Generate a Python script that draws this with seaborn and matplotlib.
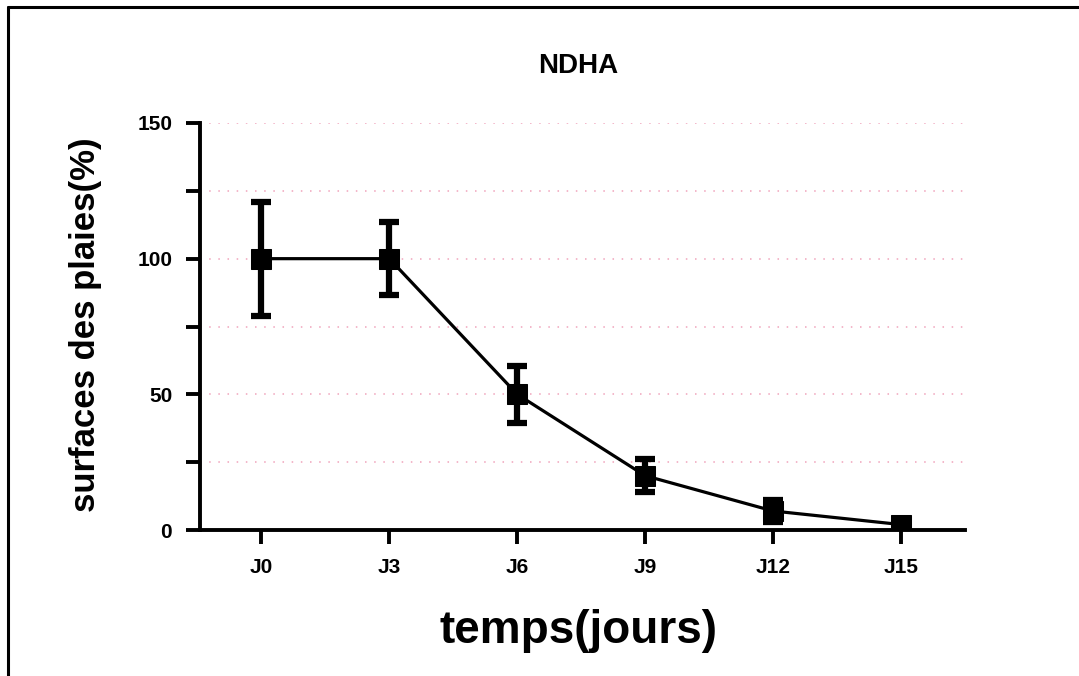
import matplotlib
matplotlib.use("Agg")
import matplotlib.pyplot as plt
import seaborn as sns
import pandas as pd
from matplotlib.lines import Line2D

# Data
days = ["J0", "J3", "J6", "J9", "J12", "J15"]
surface_mean = [100, 100, 50, 20, 7, 2]
surface_err = [21, 13.5, 10.5, 6, 4, 1]
y_ticks = [0, 50, 100, 150]
y_minor = [25, 75, 125]

sns.set_theme(style="white")
plt.rcParams["font.family"] = ["Liberation Sans", "DejaVu Sans"]
plt.rcParams["font.weight"] = "bold"
plt.rcParams["text.color"] = "black"
plt.rcParams["xtick.color"] = "black"
plt.rcParams["ytick.color"] = "black"
plt.rcParams["xtick.labelcolor"] = "black"
plt.rcParams["ytick.labelcolor"] = "black"

df = pd.DataFrame({"pos": range(len(days)), "day": days,
                   "mean": surface_mean, "err": surface_err})

fig = plt.figure(figsize=(10.79, 6.76), dpi=100)
ax = fig.add_axes([200/1079, 1-530/676, (965-200)/1079, (530-123)/676])

# grid
for v in y_minor + y_ticks[1:]:
    ax.axhline(v, color="#f0a3bb", lw=1.1, ls=(0, (1, 5)), zorder=0)

ax.errorbar(df["pos"], df["mean"], yerr=df["err"], fmt="none",
            ecolor="black", elinewidth=4.5, capsize=7.5, capthick=4.5, zorder=3)
sns.lineplot(data=df, x="pos", y="mean", ax=ax, color="black", lw=2.3,
             marker="s", markersize=14, markeredgecolor="black",
             markerfacecolor="black", zorder=4)

ax.set_xlim(-0.48, 5.5)
ax.set_ylim(0, 150)
ax.set_xticks(range(len(days)))
ax.set_xticklabels(days)
ax.set_yticks(y_ticks)
ax.set_yticks(y_minor, minor=True)
ax.set_xlabel("")
ax.set_ylabel("")

for s in ["top", "right"]:
    ax.spines[s].set_visible(False)
for s in ["left", "bottom"]:
    ax.spines[s].set_linewidth(2.8)
    ax.spines[s].set_color("black")

ax.tick_params(axis="both", which="both", direction="out", color="black",
               width=2.8, length=10, bottom=True, left=True)
ax.tick_params(axis="y", which="major", labelsize=15, pad=10)
ax.tick_params(axis="x", which="major", labelsize=15, pad=10)
for lab in ax.get_xticklabels() + ax.get_yticklabels():
    lab.set_fontweight("bold")
    lab.set_color("black")

fig.text(0.536, 0.903, "NDHA", ha="center", va="center", fontsize=20,
         fontweight="bold", color="black")
fig.text(0.536, 0.067, "temps(jours)", ha="center", va="center", fontsize=33,
         fontweight="bold", color="black")
fig.text(0.079, 0.519, "surfaces des plaies(%)", ha="center", va="center",
         fontsize=25, fontweight="bold", rotation=90, color="black")

# outer frame (partially cropped)
fig.add_artist(Line2D([8/1079, 8/1079], [0, 1-7/676], transform=fig.transFigure,
                      color="black", lw=2.2))
fig.add_artist(Line2D([8/1079, 1], [1-7/676, 1-7/676], transform=fig.transFigure,
                      color="black", lw=2.2))

fig.savefig("out.png", dpi=100)
